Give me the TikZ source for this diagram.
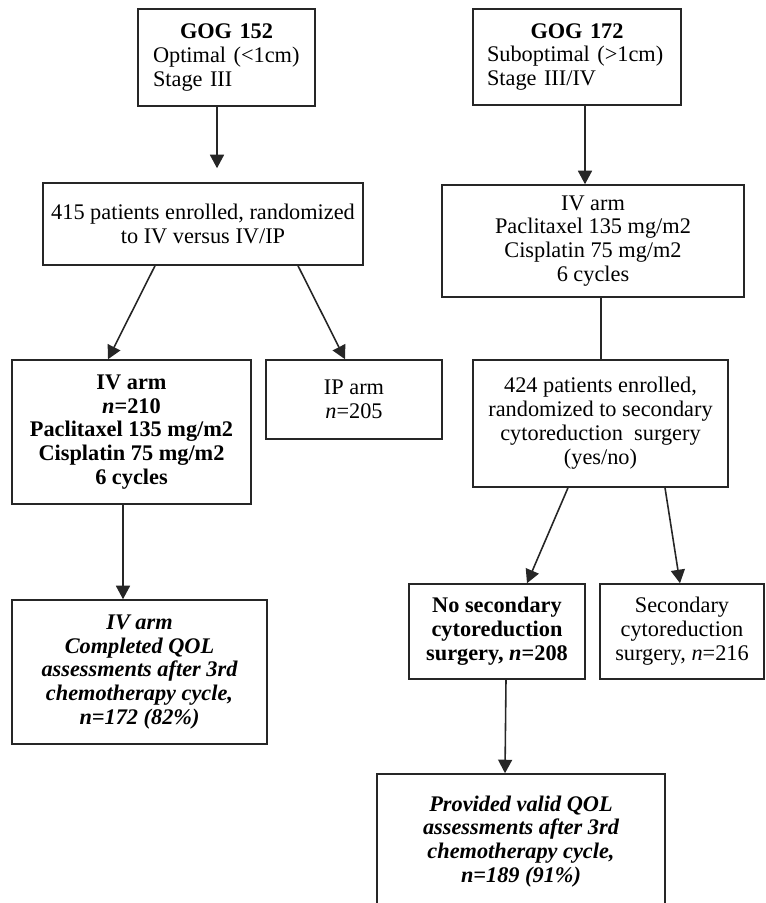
\documentclass[tikz,border=0pt]{standalone}
\usepackage{fontspec}
\setmainfont{Liberation Serif}
\usetikzlibrary{arrows.meta,calc}

\begin{document}
\begin{tikzpicture}[x=0.02cm,y=-0.02cm,
  box/.style={draw=black!85,line width=0.9pt,inner sep=0pt,align=center,
    font=\fontsize{12.7}{13.6}\selectfont},
  arr/.style={draw=black!85,line width=0.9pt,-{Triangle[length=0.27cm,width=0.28cm]}},
  lin/.style={draw=black!85,line width=0.9pt}]
\useasboundingbox (0,0) rectangle (765,903);

\node[box,minimum width=3.54cm,minimum height=1.94cm,text width=2.94cm,align=left] (gog152) at (226.5,57.5)
  {\makebox[\hsize]{\textbf{GOG 152}}\\Optimal (<1cm)\\Stage III};
\node[box,minimum width=4.16cm,minimum height=1.92cm,text width=3.6cm,align=left] (gog172) at (577,57)
  {\makebox[\hsize]{\textbf{GOG 172}}\\Suboptimal (>1cm)\\Stage III/IV};

\node[box,minimum width=6.4cm,minimum height=1.64cm] (enrolled415) at (203,224)
  {415 patients enrolled, randomized\\to IV versus IV/IP};
\node[box,minimum width=4.78cm,minimum height=2.88cm,font=\fontsize{12.7}{13.6}\selectfont\bfseries] (ivarm152) at (131.5,432)
  {IV arm\\\textit{n}=210\\Paclitaxel 135 mg/m2\\Cisplatin 75 mg/m2\\6 cycles};
\node[box,minimum width=3.52cm,minimum height=1.58cm] (iparm) at (354,399.5)
  {IP arm\\\textit{n}=205};
\node[box,minimum width=5.1cm,minimum height=2.88cm,font=\fontsize{12.7}{13.6}\selectfont\bfseries\itshape] (qol152) at (139.5,672)
  {IV arm\\Completed QOL\\assessments after 3rd\\chemotherapy cycle,\\n=172 (82\%)};

\node[box,minimum width=6.04cm,minimum height=2.24cm] (ivarm172) at (593,241)
  {IV arm\\Paclitaxel 135 mg/m2\\Cisplatin 75 mg/m2\\6 cycles};
\node[box,minimum width=5.1cm,minimum height=2.54cm] (enrolled424) at (600.5,423.5)
  {424 patients enrolled,\\randomized to secondary\\cytoreduction~ surgery\\(yes/no)};
\node[box,minimum width=3.52cm,minimum height=1.9cm,font=\fontsize{12.7}{13.6}\selectfont\bfseries] (nosecondary) at (497,631.5)
  {No secondary\\cytoreduction\\surgery, \textit{n}=208};
\node[box,minimum width=3.28cm,minimum height=1.9cm] (secondary) at (682,631.5)
  {Secondary\\cytoreduction\\surgery, \textit{n}=216};
\node[box,minimum width=5.76cm,minimum height=2.7cm,font=\fontsize{12.7}{13.6}\selectfont\bfseries\itshape] (qol172) at (521,841.5)
  {Provided valid QOL\\assessments after 3rd\\chemotherapy cycle,\\n=189 (91\%)};

\draw[arr,shorten >=0.28cm] ($(gog152.south)+(-9.5,0)$) -- ($(enrolled415.north)+(14,0)$);
\draw[arr] ($(enrolled415.south)+(-48,0)$) -- ($(ivarm152.north)+(-23.5,0)$);
\draw[arr] ($(enrolled415.south)+(95,0)$) -- ($(iparm.north)+(-9,0)$);
\draw[arr] ($(ivarm152.south)+(-8.5,0)$) -- ($(qol152.north)+(-16.5,0)$);

\draw[arr] ($(gog172.south)+(8,0)$) -- ($(ivarm172.north)+(-8,0)$);
\draw[lin] ($(ivarm172.south)+(8,0)$) -- ($(enrolled424.north)+(0.5,0)$);
\draw[arr] ($(enrolled424.south)+(-32.5,0)$) -- ($(nosecondary.north)+(30,0)$);
\draw[arr] ($(enrolled424.south)+(64.5,0)$) -- ($(secondary.north)+(-2,0)$);
\draw[arr] ($(nosecondary.south)+(9,0)$) -- ($(qol172.north)+(-16,0)$);
\end{tikzpicture}
\end{document}
